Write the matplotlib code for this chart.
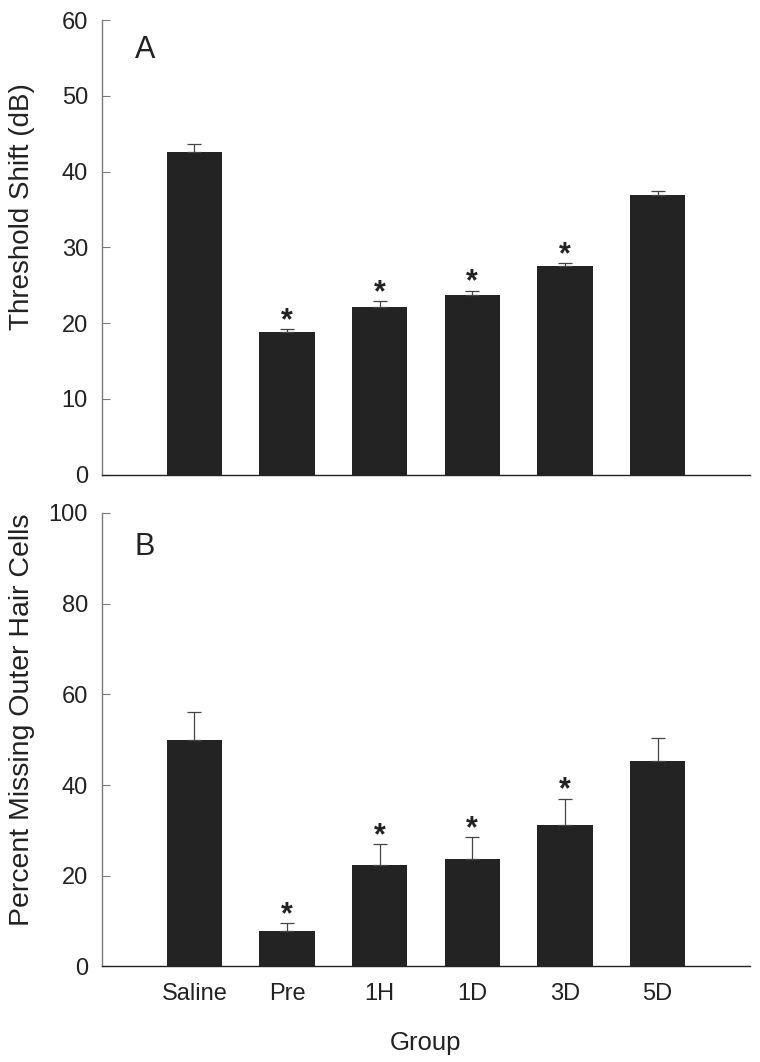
import matplotlib
matplotlib.use('Agg')
import matplotlib.pyplot as plt

groups = ['Saline', 'Pre', '1H', '1D', '3D', '5D']

# panel A: threshold shift (dB)
shift_mean = [42.6, 18.8, 22.1, 23.7, 27.5, 36.9]
shift_err = [1.0, 0.4, 0.8, 0.6, 0.4, 0.5]
shift_star = [False, True, True, True, True, False]

# panel B: percent missing outer hair cells
ohc_mean = [50.0, 7.8, 22.4, 23.6, 31.2, 45.3]
ohc_err = [6.0, 1.7, 4.5, 4.9, 5.8, 5.1]
ohc_star = [False, True, True, True, True, False]

plt.rcParams['font.family'] = ['Liberation Sans', 'DejaVu Sans']

fig = plt.figure(figsize=(7.6, 10.62), dpi=100)
axA = fig.add_axes([0.134, 0.553, 0.853, 0.428])
axB = fig.add_axes([0.134, 0.090, 0.853, 0.427])

bar_color = '#232323'
axis_color = '#7a7a7a'
text_color = '#222222'


def draw_panel(ax, means, errs, stars, ymax, step, letter, ylabel, star_gap,
               letter_y, label_y, label_size):
    x = list(range(len(means)))
    ax.bar(x, means, width=0.6, color=bar_color, zorder=2)
    ax.errorbar(x, means, yerr=[[0] * len(errs), errs], fmt='none',
                ecolor='#444444', elinewidth=0.9, capsize=4.7, capthick=0.9, zorder=3)
    for xi, m, e, s in zip(x, means, errs, stars):
        if s:
            ax.text(xi, m + e + star_gap, '*', ha='center', va='center',
                    fontsize=22, fontweight='bold', color=text_color)
    ax.set_xlim(-1, len(means))
    ax.set_ylim(0, ymax)
    ax.set_yticks(range(0, ymax + 1, step))
    ax.spines['top'].set_visible(False)
    ax.spines['right'].set_visible(False)
    ax.spines['left'].set_color(axis_color)
    ax.spines['left'].set_linewidth(1.0)
    ax.spines['bottom'].set_color(text_color)
    ax.spines['bottom'].set_linewidth(1.0)
    ax.tick_params(axis='y', direction='in', length=6, color=axis_color,
                   labelsize=17, labelcolor=text_color, pad=10)
    ax.tick_params(axis='x', length=0, labelsize=17, labelcolor=text_color, pad=12)
    ax.set_ylabel(ylabel, fontsize=label_size, color=text_color)
    ax.yaxis.set_label_coords(-0.1235, label_y)
    ax.yaxis.label.set_va('center')
    ax.text(0.051, letter_y, letter, transform=ax.transAxes, fontsize=22,
            color=text_color, va='center', ha='left')


draw_panel(axA, shift_mean, shift_err, shift_star, 60, 10, 'A',
           'Threshold Shift (dB)', 1.05, 0.934, 0.589, 20)
axA.set_xticks([])

draw_panel(axB, ohc_mean, ohc_err, ohc_star, 100, 20, 'B',
           'Percent Missing Outer Hair Cells', 1.8, 0.925, 0.543, 20.5)
axB.set_xticks(range(len(groups)))
axB.set_xticklabels(groups)
axB.set_xlabel('Group', fontsize=18.5, color=text_color)
axB.xaxis.set_label_coords(0.5, -0.168)
axB.xaxis.label.set_va('center')

fig.savefig('out.png', dpi=100)
